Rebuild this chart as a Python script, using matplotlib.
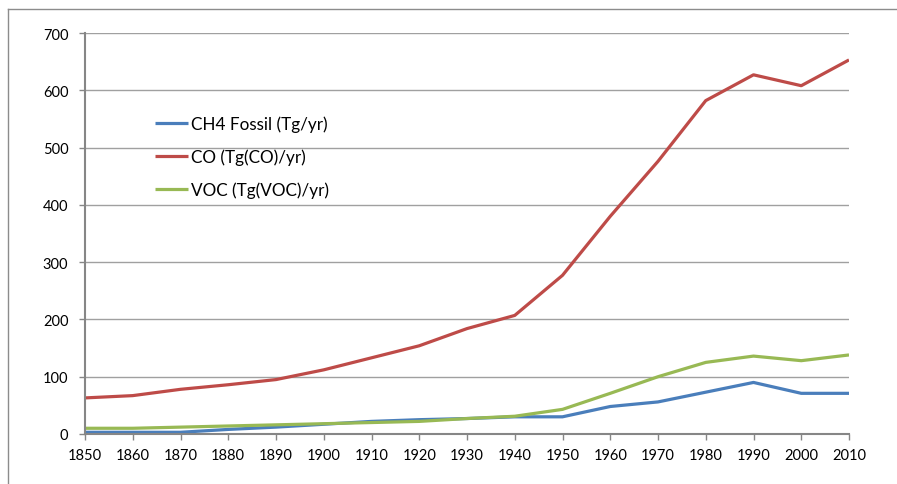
import matplotlib
matplotlib.use("Agg")
import matplotlib.pyplot as plt
from matplotlib.lines import Line2D

plt.rcParams['font.family'] = ['Lato', 'DejaVu Sans']

years = [1850, 1860, 1870, 1880, 1890, 1900, 1910, 1920, 1930, 1940,
         1950, 1960, 1970, 1980, 1990, 2000, 2010]
ch4 = [3, 3, 3, 8, 12, 17, 22, 25, 27, 30, 30, 48, 56, 73, 90, 71, 71]
co = [63, 67, 78, 86, 95, 112, 133, 154, 184, 207, 277, 380, 476, 582, 627, 608, 653]
voc = [10, 10, 12, 14, 16, 18, 20, 22, 27, 31, 43, 71, 100, 125, 136, 128, 138]
labels = ["CH4 Fossil (Tg/yr)", "CO (Tg(CO)/yr)", "VOC (Tg(VOC)/yr)"]
colors = ["#4A7EBB", "#BE4B48", "#98B954"]

W, H = 897, 485
fig = plt.figure(figsize=(W / 100, H / 100), dpi=100)
ax = fig.add_axes([85 / W, 1 - 435 / H, (849 - 85) / W, (435 - 34) / H])

for y, lab, c in zip([ch4, co, voc], labels, colors):
    ax.plot(years, y, color=c, lw=2.3, label=lab, solid_capstyle='butt')

ax.set_xlim(1850, 2010)
ax.set_ylim(0, 700)
ax.set_xticks(years)
ax.set_yticks(range(0, 701, 100))
ax.grid(axis='y', color='#A0A0A0', lw=1)
ax.set_axisbelow(True)
for s in ['top', 'right']:
    ax.spines[s].set_visible(False)
ax.spines['left'].set_color('#868686')
ax.spines['bottom'].set_color('#868686')
ax.spines['left'].set_linewidth(1.5)
ax.spines['bottom'].set_linewidth(1.5)
ax.tick_params(axis='both', colors='#868686', labelcolor='black', labelsize=10.5, length=4, width=1)
ax.tick_params(axis='x', pad=6)
ax.tick_params(axis='y', pad=8)

leg = ax.legend(loc='upper left', bbox_to_anchor=((155 - 85) / (849 - 85), 1 - (116 - 34) / (435 - 34)),
                frameon=False, fontsize=12.3, handlelength=1.93, handletextpad=0.18,
                labelspacing=0.98, borderaxespad=0, borderpad=0)

# outer chart border
fig.add_artist(Line2D([8 / W, 8 / W], [0, 1 - 10 / H], color='#8C8C8C', lw=1, transform=fig.transFigure))
fig.add_artist(Line2D([8 / W, 1], [1 - 10 / H, 1 - 10 / H], color='#8C8C8C', lw=1, transform=fig.transFigure))

fig.savefig("out.png", dpi=100)
